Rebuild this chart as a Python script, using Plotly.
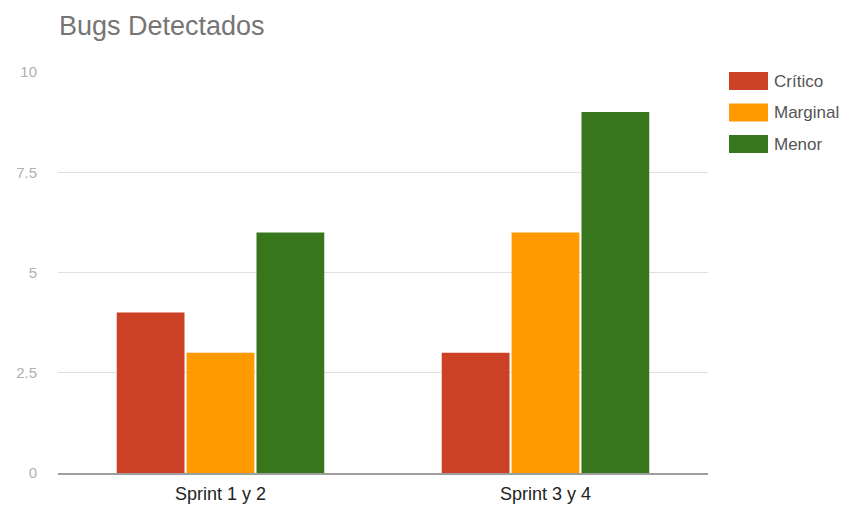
import plotly.graph_objects as go

categories = ["Sprint 1 y 2", "Sprint 3 y 4"]
series_names = ["Crítico", "Marginal", "Menor"]
critico = [4, 3]
marginal = [3, 6]
menor = [6, 9]
colors = ["#cc4125", "#ff9900", "#38761d"]
tick_vals = [0, 2.5, 5, 7.5, 10]
tick_text = ["0", "2.5", "5", "7.5", "10"]

FONT = "Liberation Sans, Arial, sans-serif"

fig = go.Figure()
for name, vals, col in zip(series_names, [critico, marginal, menor], colors):
    fig.add_trace(go.Bar(x=categories, y=vals, name=name, marker=dict(color=col, line=dict(width=0)),
                         showlegend=False))

# manual legend (large colour boxes, Google Charts style)
shapes = []
annotations = []
for i, (name, col) in enumerate(zip(series_names, colors)):
    y0 = 72 + i * 31.5
    shapes.append(dict(type="rect", xref="paper", yref="paper",
                       x0=(729 - 58) / 650, x1=(768 - 58) / 650,
                       y0=1 - (y0 + 18 - 72) / 401, y1=1 - (y0 - 72) / 401,
                       fillcolor=col, line=dict(width=0), layer="above"))
    annotations.append(dict(text=name, xref="paper", yref="paper",
                            x=(772 - 58) / 650, y=1 - (y0 + 9 - 72) / 401,
                            xanchor="left", yanchor="middle", showarrow=False,
                            font=dict(family=FONT, size=17, color="#555555")))

fig.update_layout(
    width=848, height=508,
    margin=dict(l=58, r=140, t=72, b=35),
    paper_bgcolor="white", plot_bgcolor="white",
    barmode="group", bargap=0.355, bargroupgap=0.03,
    title=dict(text="Bugs Detectados", x=59 / 848, xanchor="left", y=1 - 26 / 508, yanchor="middle",
               font=dict(family=FONT, size=27, color="#757575")),
    font=dict(family=FONT),
    xaxis=dict(showgrid=False, showline=True, linecolor="#9e9e9e", linewidth=1.5, automargin=False,
               tickfont=dict(family=FONT, size=18, color="#222222"), ticks="", ticklabelstandoff=4),
    yaxis=dict(range=[0, 10], tickvals=tick_vals, ticktext=tick_text, automargin=False,
               showgrid=True, gridcolor="#e0e0e0", gridwidth=1, zeroline=False,
               tickfont=dict(family=FONT, size=15, color="#b0b0b0"), ticks="", ticklabelstandoff=20),
    shapes=shapes, annotations=annotations,
)

fig.write_html("out.html")
